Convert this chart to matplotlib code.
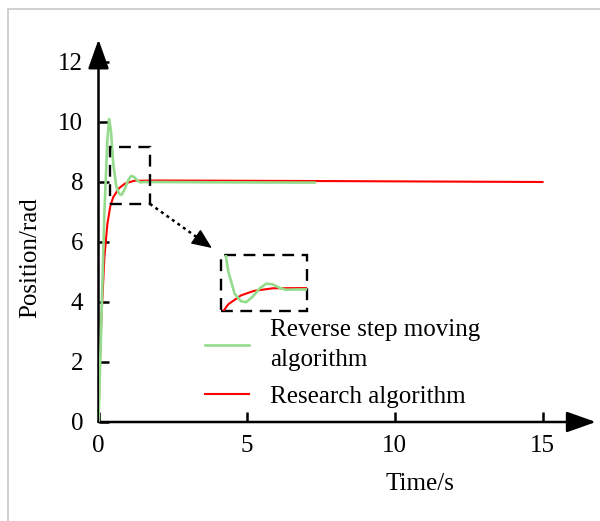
import matplotlib
matplotlib.use("Agg")
import matplotlib.pyplot as plt
from matplotlib.patches import Rectangle

plt.rcParams['font.family'] = ['Liberation Serif', 'DejaVu Serif']

# --- data ---
t_reverse = [0.0, 0.1, 0.2, 0.3, 0.36, 0.42, 0.5, 0.6, 0.7, 0.78, 0.88, 1.0, 1.1, 1.2, 1.3, 1.4, 1.6, 2.0, 4.0, 7.3]
y_reverse = [0.0, 3.5, 7.0, 9.4, 10.1, 9.7, 8.6, 7.85, 7.6, 7.57, 7.75, 8.05, 8.2, 8.17, 8.06, 7.99, 8.0, 8.0, 7.99, 7.98]
t_research = [0.0, 0.05, 0.1, 0.2, 0.3, 0.4, 0.5, 0.7, 0.9, 1.2, 2.0, 8.0, 15.0]
y_research = [0.0, 2.0, 3.5, 5.5, 6.6, 7.2, 7.5, 7.8, 7.95, 8.04, 8.05, 8.03, 8.0]
x_ticks = [0, 5, 10, 15]
y_ticks = [0, 2, 4, 6, 8, 10, 12]
label_reverse = "Reverse step moving\nalgorithm"
label_research = "Research algorithm"

GREEN = '#94dc8c'
RED = '#ff0000'
FS = 18

fig = plt.figure(figsize=(6.0, 5.21), dpi=100)
W, H = 600, 521
# light gray frame (top and left edges visible)
fig.patches.append(Rectangle((8 / W, -0.2), 1.5, 1.2 - 9 / H, transform=fig.transFigure,
                             fill=False, ec='#c8c8c8', lw=1.2))

ax = fig.add_axes([98.5 / W, 1 - 422 / H, (595.8 - 98.5) / W, (422 - 39.5) / H])
ax.set_xlim(0, 16.8)
ax.set_ylim(0, 12.75)

l1, = ax.plot(t_research, y_research, color=RED, lw=1.5, zorder=3, label=label_research)
l2, = ax.plot(t_reverse, y_reverse, color=GREEN, lw=1.9, zorder=4, label=label_reverse)

for s in ['top', 'right', 'left', 'bottom']:
    ax.spines[s].set_visible(False)
arrow_kw = dict(arrowstyle='-|>,head_length=0.9,head_width=0.32', lw=1.8, color='k',
                mutation_scale=20, shrinkA=0, shrinkB=0)
ax.annotate('', xy=(1, 0), xytext=(0, 0), xycoords='axes fraction', arrowprops=arrow_kw,
            annotation_clip=False)
ax.annotate('', xy=(0, 1), xytext=(0, 0), xycoords='axes fraction', arrowprops=arrow_kw,
            annotation_clip=False)

ax.set_xticks(x_ticks)
ax.set_yticks(y_ticks)
ax.tick_params(direction='in', length=7, width=1.8, labelsize=FS, pad=9)
ax.tick_params(axis='y', pad=11)

fig.text(30 / W, 1 - 258 / H, 'Position/rad', rotation=90, ha='center', va='center', fontsize=FS)
fig.text(420 / W, 1 - 484 / H, 'Time/s', ha='center', va='center', fontsize=FS)

# zoom box and inset
box = (0.39, 7.27, 1.35, 1.9)
ins = (4.15, 3.7, 2.9, 1.87)
dash = (0, (5, 3.2))
ax.add_patch(Rectangle(box[:2], box[2], box[3], fill=False, ec='k', lw=1.7, ls=dash, zorder=5))
ax.add_patch(Rectangle(ins[:2], ins[2], ins[3], fill=False, ec='k', lw=1.7, ls=dash, zorder=5))

iax = ax.inset_axes(list(ins), transform=ax.transData)
iax.plot(t_research, y_research, color=RED, lw=1.5)
iax.plot(t_reverse, y_reverse, color=GREEN, lw=1.9)
iax.set_xlim(box[0], box[0] + box[2])
iax.set_ylim(box[1], box[1] + box[3])
iax.axis('off')

# dotted pointer arrow
p0 = (box[0] + box[2], box[1])
p1 = (3.83, 5.8)
ax.plot([p0[0], 3.55], [p0[1], 6.0], color='k', lw=1.8, ls=(0, (1.2, 1.5)), zorder=5)
ax.annotate('', xy=p1, xytext=(3.5, 6.03),
            arrowprops=dict(arrowstyle='-|>,head_length=0.7,head_width=0.3', color='k', lw=1,
                            mutation_scale=18, shrinkA=0, shrinkB=0))

leg = ax.legend(handles=[l2, l1], loc='upper left', bbox_to_anchor=(205 / W, 1 - 319 / H),
                bbox_transform=fig.transFigure, frameon=False, fontsize=FS, borderpad=0,
                handlelength=1.75, handletextpad=0.85, labelspacing=0.6, borderaxespad=0)
for txt in leg.get_texts():
    txt.set_linespacing(1.45)

fig.savefig('out.png', dpi=100)
